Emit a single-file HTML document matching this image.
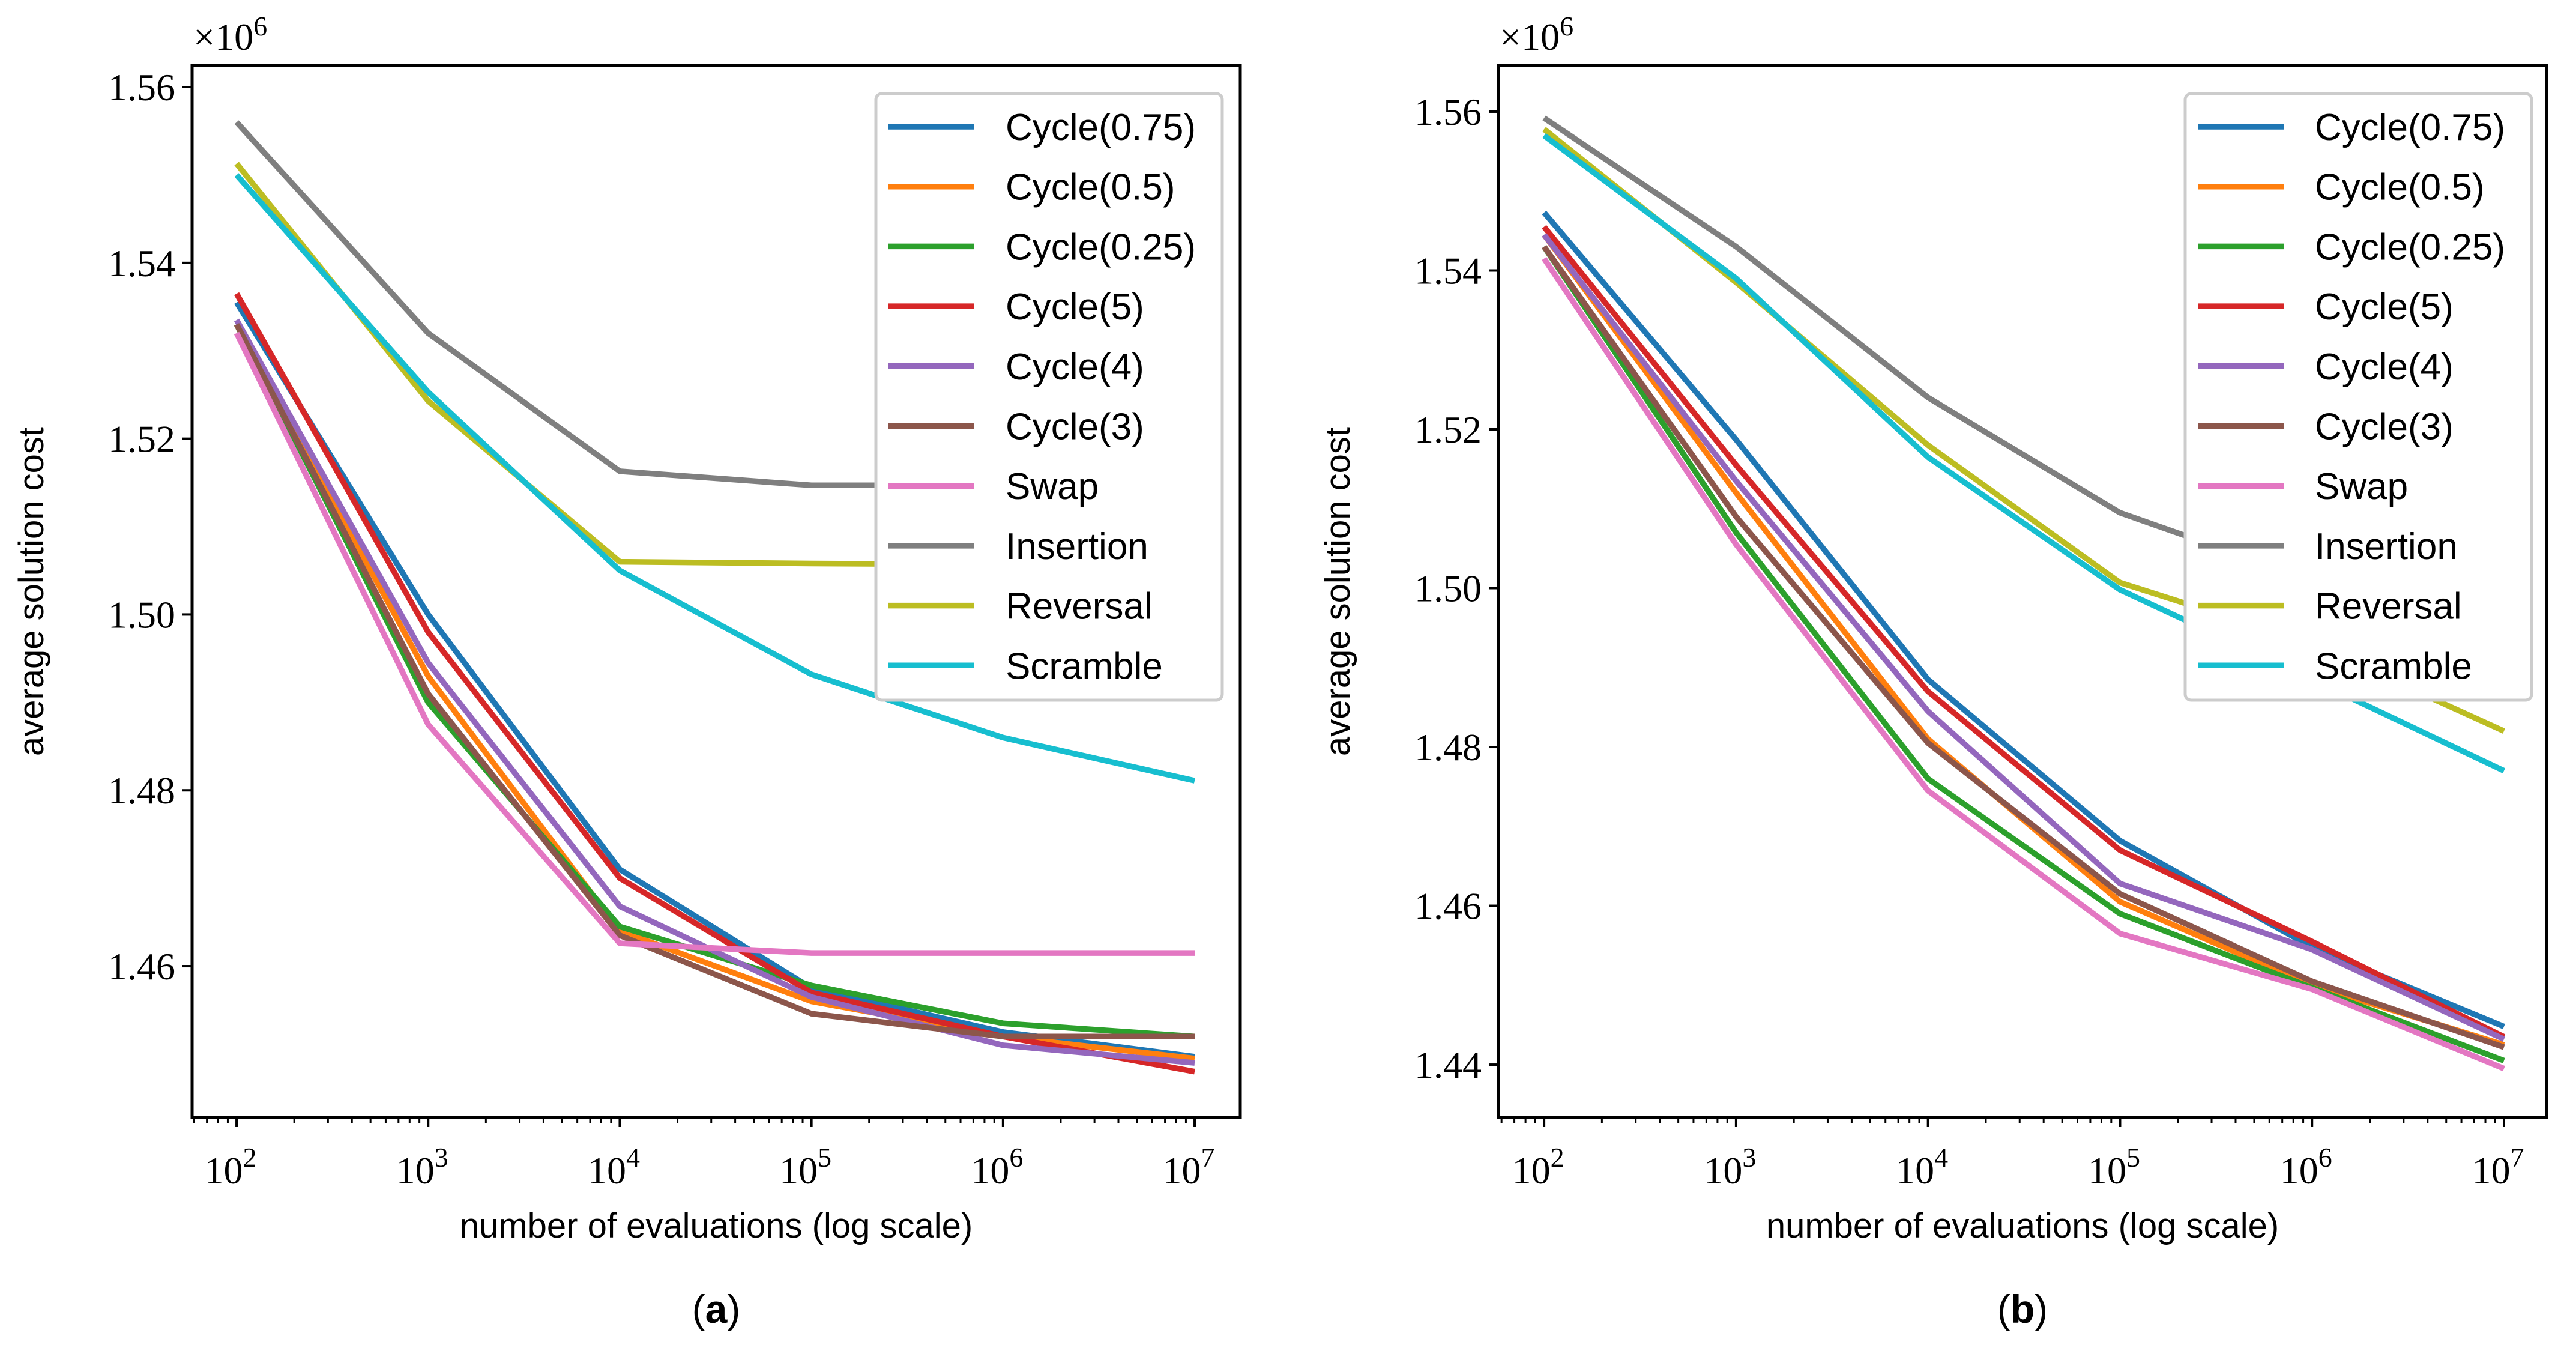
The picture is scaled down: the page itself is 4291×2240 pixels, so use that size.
<!DOCTYPE html>
<html><head><meta charset="utf-8">
<style>
body{margin:0;background:#fff;}
svg{display:block;}
text{font-family:"Liberation Sans",sans-serif;fill:#000;}
.tick{font-family:"Liberation Serif",serif;font-size:64px;}
</style></head>
<body>
<svg id="chart" width="4291" height="2240" viewBox="0 0 4291 2240" xmlns="http://www.w3.org/2000/svg"></svg>
<script>
const seriesNames = ["Cycle(0.75)","Cycle(0.5)","Cycle(0.25)","Cycle(5)","Cycle(4)","Cycle(3)","Swap","Insertion","Reversal","Scramble"];
const colors = ["#1f77b4","#ff7f0e","#2ca02c","#d62728","#9467bd","#8c564b","#e377c2","#7f7f7f","#bcbd22","#17becf"];
const evalExponents = [2,3,4,5,6,7];
const xTickLabels = ["2","3","4","5","6","7"];
// panel (a) values (x 1e6)
const aCycle075 = [1.5355,1.500,1.471,1.4575,1.4525,1.4497];
const aCycle05  = [1.533,1.493,1.464,1.456,1.452,1.4495];
const aCycle025 = [1.533,1.490,1.4645,1.4578,1.4535,1.452];
const aCycle5   = [1.5365,1.498,1.470,1.457,1.452,1.448];
const aCycle4   = [1.5335,1.4945,1.4668,1.4565,1.451,1.449];
const aCycle3   = [1.533,1.491,1.4635,1.4546,1.452,1.452];
const aSwap     = [1.532,1.4875,1.4626,1.4615,1.4615,1.4615];
const aInsert   = [1.556,1.532,1.5163,1.5147,1.5147,1.5145];
const aReverse  = [1.5513,1.5243,1.506,1.5058,1.5057,1.5055];
const aScramble = [1.550,1.5253,1.505,1.4932,1.486,1.4811];
const aYTicks = [1.46,1.48,1.50,1.52,1.54,1.56];
// panel (b) values
const bCycle075 = [1.5473,1.5187,1.4885,1.4682,1.4548,1.4448];
const bCycle05  = [1.5445,1.512,1.481,1.4605,1.450,1.4425];
const bCycle025 = [1.543,1.507,1.476,1.459,1.4497,1.4405];
const bCycle5   = [1.5455,1.5155,1.487,1.467,1.4555,1.4435];
const bCycle4   = [1.5445,1.5135,1.4845,1.4628,1.4545,1.4432];
const bCycle3   = [1.543,1.509,1.4805,1.4615,1.4505,1.4422];
const bSwap     = [1.5415,1.5055,1.4745,1.4565,1.4495,1.4395];
const bInsert   = [1.5592,1.543,1.524,1.5095,1.501,1.495];
const bReverse  = [1.5578,1.5385,1.518,1.5007,1.493,1.482];
const bScramble = [1.557,1.539,1.5165,1.4998,1.4885,1.477];
const bYTicks = [1.44,1.46,1.48,1.50,1.52,1.54,1.56];

const NS="http://www.w3.org/2000/svg";
const svg=document.getElementById('chart');
function mk(tag,attrs,parent){const e=document.createElementNS(NS,tag);for(const k in attrs)e.setAttribute(k,attrs[k]);(parent||svg).appendChild(e);return e;}

function panel(id,box,xr,yr,yTicks,data,legendX,caption){
  const g=mk('g',{});
  
  
  const xs=v=>box.l+(v-xr[0])/(xr[1]-xr[0])*(box.r-box.l);
  const ys=v=>box.b-(v-yr[0])/(yr[1]-yr[0])*(box.b-box.t);
  data.forEach((arr,i)=>{
    const pts=arr.map((v,j)=>xs(evalExponents[j]).toFixed(1)+','+ys(v).toFixed(1)).join(' ');
    const pl=mk('polyline',{points:pts,fill:'none',stroke:colors[i],'stroke-width':9.5,'stroke-linejoin':'round'},g);
    
    
  });
  const fr=mk('rect',{x:box.l,y:box.t,width:box.r-box.l,height:box.b-box.t,fill:'none',stroke:'#000','stroke-width':5},g);
  
  
  for(let d=1;d<=7;d++){for(let m=1;m<10;m++){const lv=d+Math.log10(m);if(lv<xr[0]||lv>xr[1])continue;
    const x=xs(lv);mk('line',{x1:x,x2:x,y1:box.b,y2:box.b+(m===1?16:9),stroke:'#000','stroke-width':m===1?4:3},g);}}
  evalExponents.forEach((e,j)=>{const t=mk('text',{x:xs(e)-10,y:box.b+110,'text-anchor':'middle',class:'tick'},g);
    t.textContent='10';const s=mk('tspan',{dy:-28,'font-size':46},t);s.textContent=xTickLabels[j];
    
    });
  yTicks.forEach(v=>{const y=ys(v);mk('line',{x1:box.l-16,x2:box.l,y1:y,y2:y,stroke:'#000','stroke-width':4},g);
    const t=mk('text',{x:box.l-28,y:y+22,'text-anchor':'end',class:'tick'},g);t.textContent=v.toFixed(2);
    
    });
  const mult=mk('text',{x:box.l+2,y:box.t-26,class:'tick'},g);mult.textContent='×10';
  const ms=mk('tspan',{dy:-24,'font-size':46},mult);ms.textContent='6';
  
  
  const yl=mk('text',{x:0,y:0,'font-size':58,'text-anchor':'middle',transform:`translate(${box.l-248},${(box.t+box.b)/2}) rotate(-90)`},g);
  yl.textContent='average solution cost';
  
  
  const xl=mk('text',{x:(box.l+box.r)/2,y:box.b+200,'font-size':58,'text-anchor':'middle'},g);
  xl.textContent='number of evaluations (log scale)';
  
  
  const cap=mk('text',{x:(box.l+box.r)/2,y:box.b+342,'font-size':66,'text-anchor':'middle','font-family':'Liberation Serif,serif'},g);
  cap.innerHTML='(<tspan font-weight="bold">'+caption+'</tspan>)';
  
  
  const lg=mk('g',{},g);
  
  
  mk('rect',{x:legendX,y:156,width:577,height:1010,rx:10,fill:'#fff',stroke:'#ccc','stroke-width':5},lg);
  seriesNames.forEach((n,i)=>{const y=211+i*99.7;
    const e=mk('g',{},lg);
    
    
    mk('line',{x1:legendX+21,x2:legendX+164,y1:y,y2:y,stroke:colors[i],'stroke-width':9.5},e);
    const t=mk('text',{x:legendX+216,y:y+22,'font-size':62},e);t.textContent=n;});
}
panel('a',{l:320,r:2066,t:109,b:1861},[1.768,7.238],[1.44279,1.56246],aYTicks,
  [aCycle075,aCycle05,aCycle025,aCycle5,aCycle4,aCycle3,aSwap,aInsert,aReverse,aScramble],1459,'a');
panel('b',{l:2496,r:4242,t:109,b:1861},[1.762,7.222],[1.43335,1.56582],bYTicks,
  [bCycle075,bCycle05,bCycle025,bCycle5,bCycle4,bCycle3,bSwap,bInsert,bReverse,bScramble],3640,'b');
</script>
</body></html>
